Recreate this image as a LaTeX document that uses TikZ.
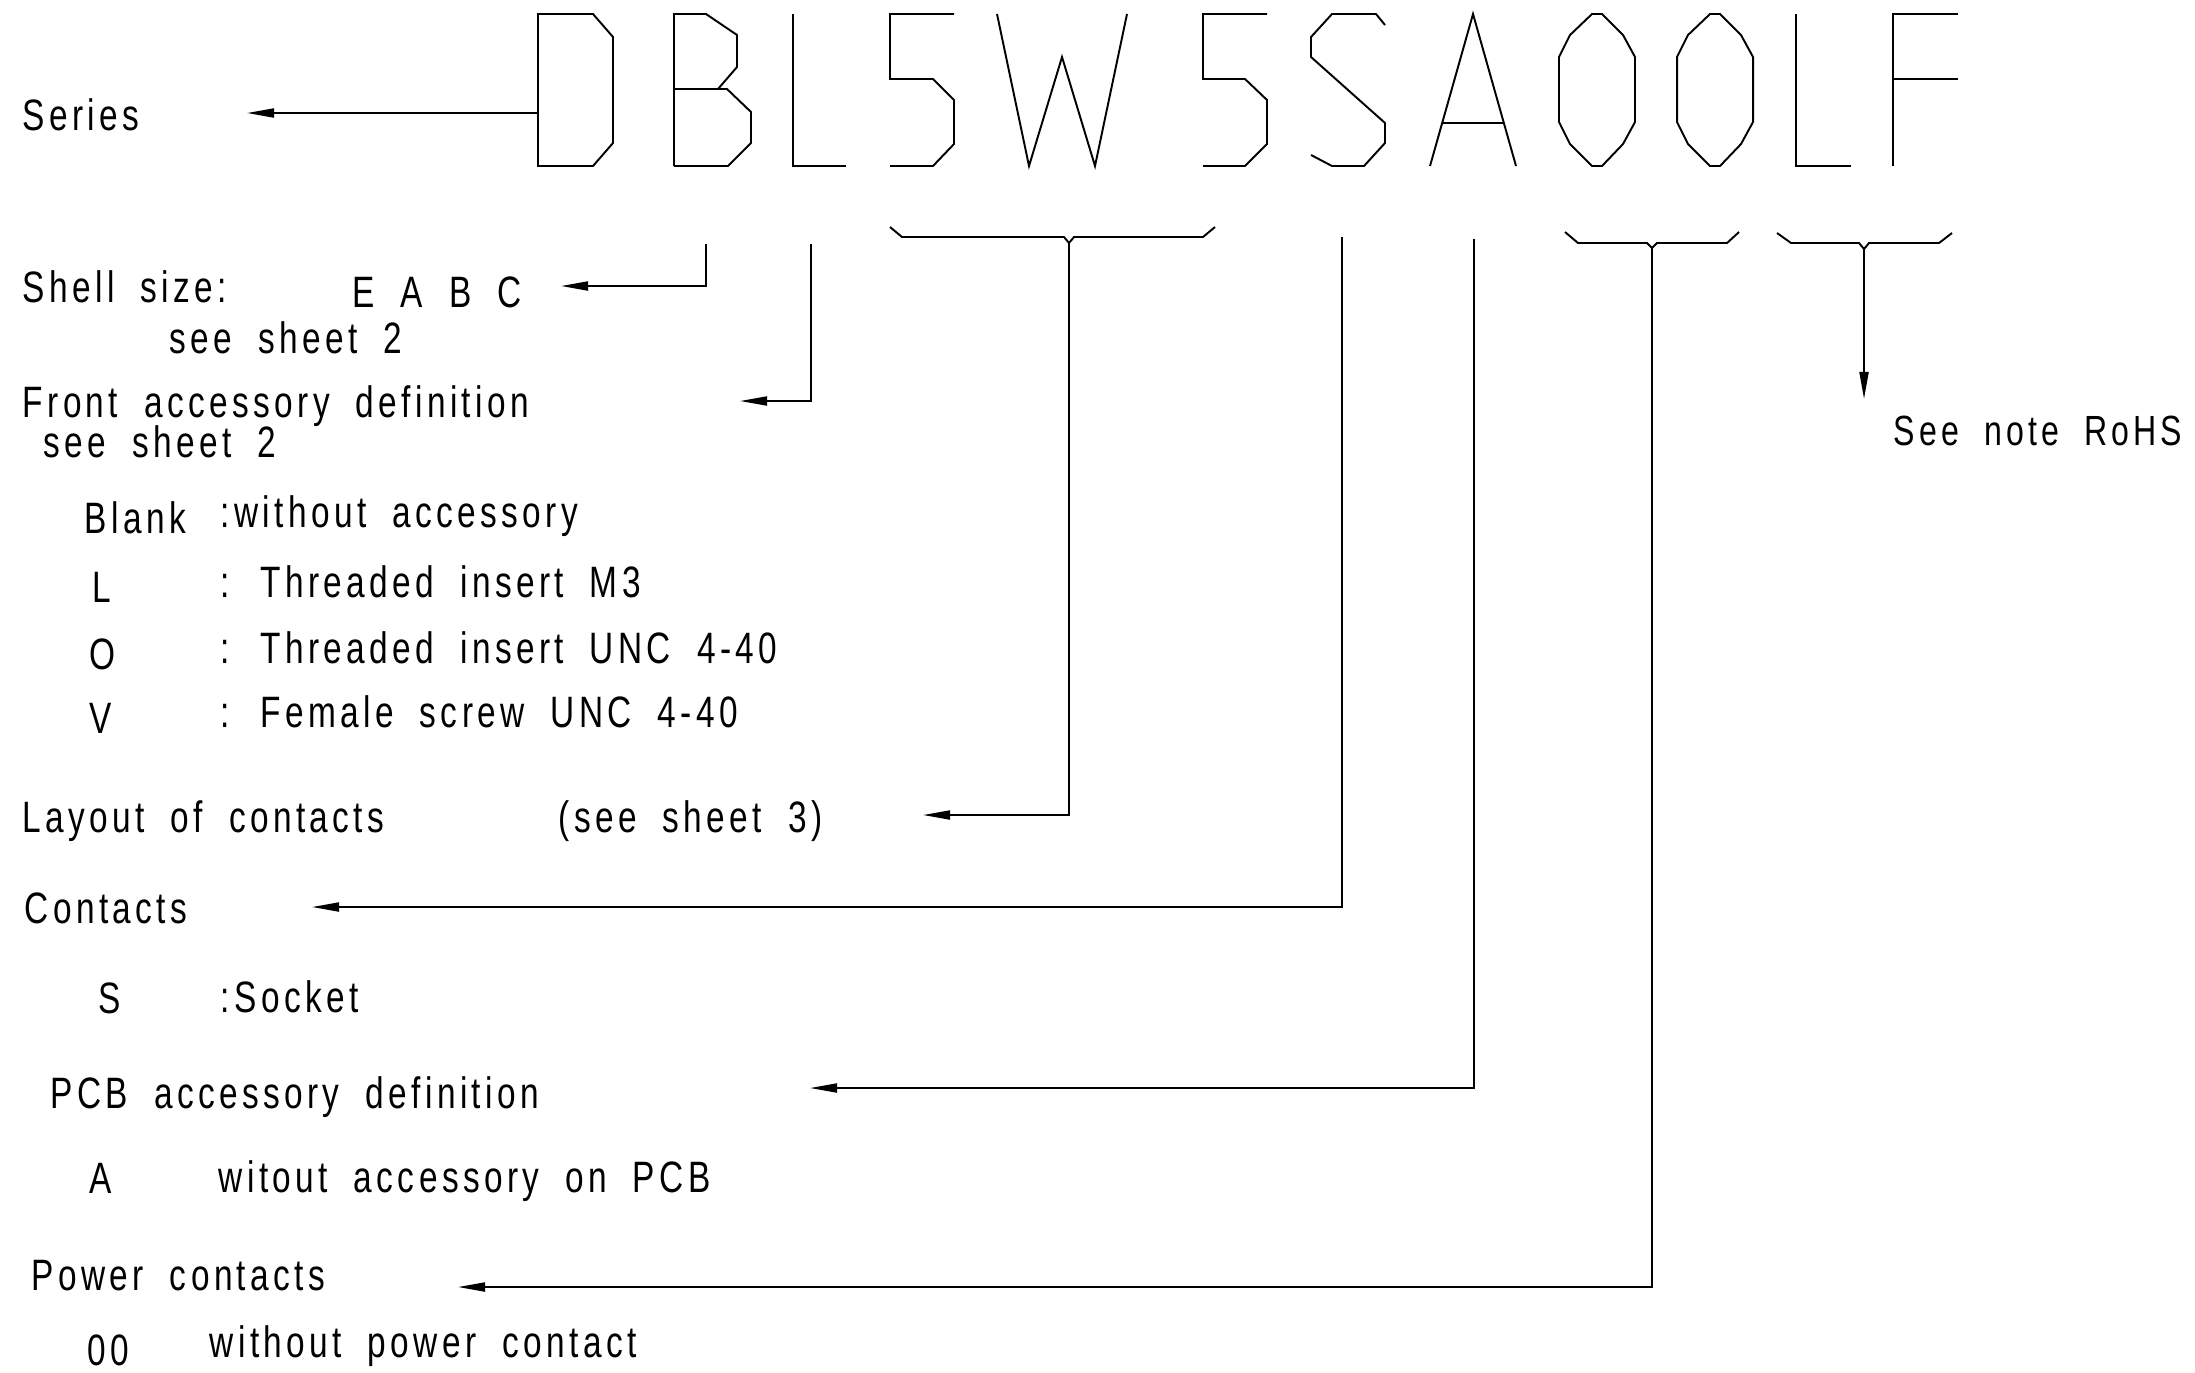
\documentclass[tikz,border=0pt]{standalone}
\usepackage{fontspec}
\setmainfont{Liberation Sans}[FakeStretch=0.76,LetterSpace=10,WordSpace=1.9]
\usetikzlibrary{arrows.meta}

\tikzset{
  glyph/.style={line width=0.55pt, line join=miter},
  brace/.style={line width=0.55pt},
  leader/.style={line width=0.55pt, -{Triangle[length=0.27cm,width=0.09cm]}},
  desc/.style={inner sep=0pt, anchor=base west, font=\fontsize{12.5}{15}\selectfont},
}

\begin{document}
\begin{tikzpicture}[x=0.01cm,y=-0.01cm]
  \useasboundingbox (0,0) rectangle (2195,1372);

  % part number
  \draw[glyph] (538,14) -- (593,14) -- (613,37) -- (613,143) -- (593,166) -- (538,166) -- cycle;
  \draw[glyph] (674,166) -- (674,14) -- (706,14) -- (737,35) -- (737,67) -- (718,89)
               (674,89) -- (727,89) -- (751,112) -- (751,143) -- (728,166) -- (674,166);
  \draw[glyph] (793,14) -- (793,166) -- (846,166);
  \draw[glyph] (954,14) -- (890,14) -- (890,79) -- (933,79) -- (954,100) -- (954,144) -- (933,166) -- (890,166);
  \draw[glyph] (997,14) -- (1029,166) -- (1062,57) -- (1095,166) -- (1127,14);
  \draw[glyph] (1267,14) -- (1203,14) -- (1203,79) -- (1245,79) -- (1267,100) -- (1267,144) -- (1245,166) -- (1203,166);
  \draw[glyph] (1385,25) -- (1376,14) -- (1332,14) -- (1311,37) -- (1311,57) -- (1385,123) -- (1385,143)
               -- (1364,166) -- (1332,166) -- (1311,155);
  \draw[glyph] (1430,166) -- (1473,14) -- (1516,166) (1442,123) -- (1504,123);
  \foreach \ox in {1559,1677}
    \draw[glyph] (\ox+33,14) -- (\ox+43,14) -- (\ox+64,35) -- (\ox+76,57) -- (\ox+76,122) -- (\ox+64,144)
                 -- (\ox+43,166) -- (\ox+33,166) -- (\ox+11,144) -- (\ox,122) -- (\ox,57) -- (\ox+11,35) -- cycle;
  \draw[glyph] (1796,14) -- (1796,166) -- (1851,166);
  \draw[glyph] (1958,14) -- (1893,14) -- (1893,166) (1893,79) -- (1958,79);

  % groupings
  \draw[brace] (890,227) -- (902,237) -- (1064,237) -- (1069,243) -- (1074,237) -- (1203,237) -- (1215,227);
  \draw[brace] (1565,232) -- (1578,243) -- (1647,243) -- (1652,248) -- (1657,243) -- (1727,243) -- (1739,232);
  \draw[brace] (1777,233) -- (1791,243) -- (1859,243) -- (1864,249) -- (1869,243) -- (1939,243) -- (1952,233);

  \coordinate (seriesFrom) at (538,113);
  \coordinate (seriesTip) at (247,113);
  \coordinate (shellFrom) at (706,244);
  \coordinate (shellTip) at (561,286);
  \coordinate (frontFrom) at (811,244);
  \coordinate (frontTip) at (740,401);
  \coordinate (layoutFrom) at (1069,243);
  \coordinate (layoutTip) at (923,815);
  \coordinate (contactsFrom) at (1342,237);
  \coordinate (contactsTip) at (312,907);
  \coordinate (pcbFrom) at (1474,239);
  \coordinate (pcbTip) at (810,1088);
  \coordinate (powerFrom) at (1652,248);
  \coordinate (powerTip) at (458,1287);
  \coordinate (rohsFrom) at (1864,249);
  \coordinate (rohsTip) at (1864,399);

  \draw[leader] (seriesFrom) -- (seriesTip);
  \draw[leader] (shellFrom) |- (shellTip);
  \draw[leader] (frontFrom) |- (frontTip);
  \draw[leader] (layoutFrom) |- (layoutTip);
  \draw[leader] (contactsFrom) |- (contactsTip);
  \draw[leader] (pcbFrom) |- (pcbTip);
  \draw[leader] (powerFrom) |- (powerTip);
  \draw[leader] (rohsFrom) -- (rohsTip);

  % descriptions
  \node[desc] (series) at (22,130) {Series};
  \node[desc] (shell) at (22,302) {Shell size:};
  \node[desc] (shellCodes) at (352,307) {E A B C};
  \node[desc] (shellSheet) at (169,353) {see sheet 2};
  \node[desc] (front) at (22,417) {Front accessory definition};
  \node[desc] (frontSheet) at (43,457) {see sheet 2};
  \node[desc] (blank) at (84,533) {Blank};
  \node[desc] (blankText) at (220,527) {:without accessory};
  \node[desc] (codeL) at (92,602) {L};
  \node[desc] (codeLText) at (220,597) {: Threaded insert M3};
  \node[desc] (codeO) at (89,669) {O};
  \node[desc] (codeOText) at (220,663) {: Threaded insert UNC 4-40};
  \node[desc] (codeV) at (89,733) {V};
  \node[desc] (codeVText) at (220,727) {: Female screw UNC 4-40};
  \node[desc] (layout) at (22,832) {Layout of contacts};
  \node[desc] (layoutSheet) at (558,832) {(see sheet 3)};
  \node[desc] (contacts) at (24,923) {Contacts};
  \node[desc] (codeS) at (98,1013) {S};
  \node[desc] (codeSText) at (220,1012) {:Socket};
  \node[desc] (pcb) at (50,1108) {PCB accessory definition};
  \node[desc] (codeA) at (89,1193) {A};
  \node[desc] (codeAText) at (218,1192) {witout accessory on PCB};
  \node[desc] (power) at (31,1290) {Power contacts};
  \node[desc] (code00) at (87,1365) {00};
  \node[desc] (code00Text) at (209,1357) {without power contact};
  \node[desc, font=\fontsize{12}{14}\selectfont] (rohs) at (1893,445) {See note RoHS};
\end{tikzpicture}
\end{document}
